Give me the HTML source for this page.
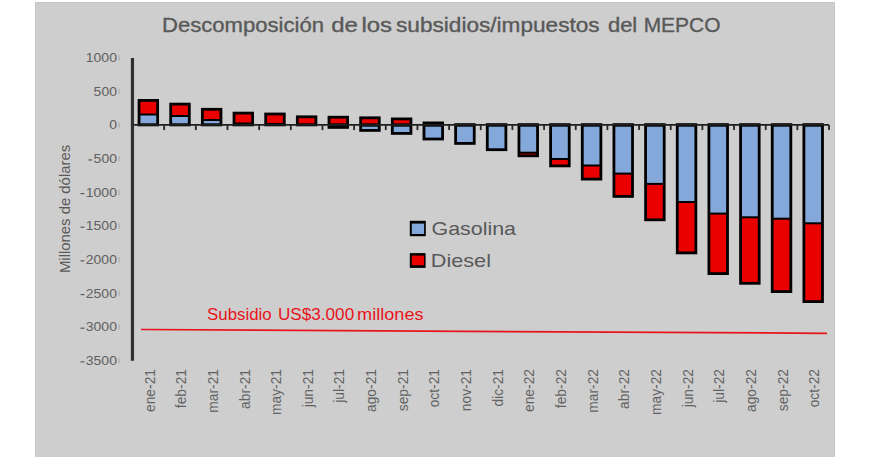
<!DOCTYPE html>
<html><head><meta charset="utf-8"><style>
html,body{margin:0;padding:0;background:#fff;width:870px;height:457px;overflow:hidden}
.bg{position:absolute;left:35px;top:2px;width:798px;height:455px;background:#cecece;border:1px solid #c6c6c6;border-bottom:none}
svg{position:absolute;left:0;top:0}
text{font-family:"Liberation Sans",sans-serif}
</style></head><body>
<div class="bg"></div>
<svg width="870" height="457" viewBox="0 0 870 457">
<text x="162.05" y="32.2" font-size="20.5" fill="#595959" stroke="#595959" stroke-width="0.35" textLength="161.97" lengthAdjust="spacingAndGlyphs">Descomposición</text>
<text x="331.23" y="32.2" font-size="20.5" fill="#595959" stroke="#595959" stroke-width="0.35" textLength="26.72" lengthAdjust="spacingAndGlyphs">de</text>
<text x="361.43" y="32.2" font-size="20.5" fill="#595959" stroke="#595959" stroke-width="0.35" textLength="30.62" lengthAdjust="spacingAndGlyphs">los</text>
<text x="396.0" y="32.2" font-size="20.5" fill="#595959" stroke="#595959" stroke-width="0.35" textLength="203.66" lengthAdjust="spacingAndGlyphs">subsidios/impuestos</text>
<text x="607.93" y="32.2" font-size="20.5" fill="#595959" stroke="#595959" stroke-width="0.35" textLength="29.33" lengthAdjust="spacingAndGlyphs">del</text>
<text x="643.66" y="32.2" font-size="20.5" fill="#595959" stroke="#595959" stroke-width="0.35" textLength="76.86" lengthAdjust="spacingAndGlyphs">MEPCO</text>
<text transform="translate(70.3,273.05) rotate(-90)" font-size="14.2" fill="#595959" textLength="128.21" lengthAdjust="spacingAndGlyphs">Millones de dólares</text>
<text x="85.85" y="62.00" font-size="12.6" fill="#606060" textLength="31.08" lengthAdjust="spacingAndGlyphs">1000</text>
<rect x="118.5" y="55.10" width="1.5" height="5.5" fill="#b6b6b6"/>
<text x="93.62" y="95.65" font-size="12.6" fill="#606060" textLength="23.31" lengthAdjust="spacingAndGlyphs">500</text>
<rect x="118.5" y="88.75" width="1.5" height="5.5" fill="#b6b6b6"/>
<text x="109.16" y="129.30" font-size="12.6" fill="#606060" textLength="7.77" lengthAdjust="spacingAndGlyphs">0</text>
<rect x="118.5" y="122.40" width="1.5" height="5.5" fill="#b6b6b6"/>
<text x="93.62" y="162.95" font-size="12.6" fill="#606060" textLength="23.31" lengthAdjust="spacingAndGlyphs">500</text>
<rect x="88.32" y="159.35" width="3.8" height="1.2" fill="#595959"/>
<rect x="118.5" y="156.05" width="1.5" height="5.5" fill="#b6b6b6"/>
<text x="85.85" y="196.60" font-size="12.6" fill="#606060" textLength="31.08" lengthAdjust="spacingAndGlyphs">1000</text>
<rect x="80.55" y="193.00" width="3.8" height="1.2" fill="#595959"/>
<rect x="118.5" y="189.70" width="1.5" height="5.5" fill="#b6b6b6"/>
<text x="85.85" y="230.25" font-size="12.6" fill="#606060" textLength="31.08" lengthAdjust="spacingAndGlyphs">1500</text>
<rect x="80.55" y="226.65" width="3.8" height="1.2" fill="#595959"/>
<rect x="118.5" y="223.35" width="1.5" height="5.5" fill="#b6b6b6"/>
<text x="85.85" y="263.90" font-size="12.6" fill="#606060" textLength="31.08" lengthAdjust="spacingAndGlyphs">2000</text>
<rect x="80.55" y="260.30" width="3.8" height="1.2" fill="#595959"/>
<rect x="118.5" y="257.00" width="1.5" height="5.5" fill="#b6b6b6"/>
<text x="85.85" y="297.55" font-size="12.6" fill="#606060" textLength="31.08" lengthAdjust="spacingAndGlyphs">2500</text>
<rect x="80.55" y="293.95" width="3.8" height="1.2" fill="#595959"/>
<rect x="118.5" y="290.65" width="1.5" height="5.5" fill="#b6b6b6"/>
<text x="85.85" y="331.20" font-size="12.6" fill="#606060" textLength="31.08" lengthAdjust="spacingAndGlyphs">3000</text>
<rect x="80.55" y="327.60" width="3.8" height="1.2" fill="#595959"/>
<rect x="118.5" y="324.30" width="1.5" height="5.5" fill="#b6b6b6"/>
<text x="85.85" y="364.85" font-size="12.6" fill="#606060" textLength="31.08" lengthAdjust="spacingAndGlyphs">3500</text>
<rect x="80.55" y="361.25" width="3.8" height="1.2" fill="#595959"/>
<rect x="118.5" y="357.95" width="1.5" height="5.5" fill="#b6b6b6"/>
<rect x="137.63" y="99.00" width="21.40" height="27.30" fill="#000"/>
<rect x="140.43" y="115.50" width="15.80" height="7.80" fill="#84A8D9"/>
<rect x="140.43" y="101.80" width="15.80" height="11.70" fill="#EB0000"/>
<rect x="169.29" y="102.70" width="21.40" height="23.60" fill="#000"/>
<rect x="172.09" y="117.00" width="15.80" height="6.30" fill="#84A8D9"/>
<rect x="172.09" y="105.50" width="15.80" height="9.50" fill="#EB0000"/>
<rect x="200.95" y="107.90" width="21.40" height="18.40" fill="#000"/>
<rect x="203.75" y="121.00" width="15.80" height="2.30" fill="#84A8D9"/>
<rect x="203.75" y="110.70" width="15.80" height="8.30" fill="#EB0000"/>
<rect x="232.61" y="111.70" width="21.40" height="14.60" fill="#000"/>
<rect x="235.41" y="114.50" width="15.80" height="8.00" fill="#EB0000"/>
<rect x="264.27" y="112.60" width="21.40" height="13.70" fill="#000"/>
<rect x="267.07" y="115.40" width="15.80" height="7.60" fill="#EB0000"/>
<rect x="295.93" y="115.40" width="21.40" height="10.90" fill="#000"/>
<rect x="298.73" y="118.20" width="15.80" height="5.10" fill="#EB0000"/>
<rect x="327.59" y="115.80" width="21.40" height="13.00" fill="#000"/>
<rect x="330.39" y="118.60" width="15.80" height="4.70" fill="#EB0000"/>
<rect x="359.25" y="116.40" width="21.40" height="15.40" fill="#000"/>
<rect x="362.05" y="126.70" width="15.80" height="2.30" fill="#84A8D9"/>
<rect x="362.05" y="119.20" width="15.80" height="4.10" fill="#EB0000"/>
<rect x="390.91" y="117.50" width="21.40" height="17.30" fill="#000"/>
<rect x="393.71" y="126.70" width="15.80" height="5.30" fill="#84A8D9"/>
<rect x="393.71" y="120.30" width="15.80" height="3.00" fill="#EB0000"/>
<rect x="422.57" y="121.50" width="21.40" height="18.90" fill="#000"/>
<rect x="425.37" y="126.70" width="15.80" height="10.90" fill="#84A8D9"/>
<rect x="454.23" y="123.20" width="21.40" height="21.60" fill="#000"/>
<rect x="457.03" y="126.70" width="15.80" height="15.30" fill="#84A8D9"/>
<rect x="485.89" y="123.20" width="21.40" height="27.90" fill="#000"/>
<rect x="488.69" y="126.70" width="15.80" height="21.60" fill="#84A8D9"/>
<rect x="517.55" y="123.20" width="21.40" height="34.00" fill="#000"/>
<rect x="520.35" y="126.70" width="15.80" height="25.00" fill="#84A8D9"/>
<rect x="520.35" y="153.70" width="15.80" height="0.70" fill="#EB0000"/>
<rect x="549.21" y="123.20" width="21.40" height="44.10" fill="#000"/>
<rect x="552.01" y="126.70" width="15.80" height="31.30" fill="#84A8D9"/>
<rect x="552.01" y="160.00" width="15.80" height="4.50" fill="#EB0000"/>
<rect x="580.87" y="123.20" width="21.40" height="57.30" fill="#000"/>
<rect x="583.67" y="126.70" width="15.80" height="37.80" fill="#84A8D9"/>
<rect x="583.67" y="166.50" width="15.80" height="11.20" fill="#EB0000"/>
<rect x="612.53" y="123.20" width="21.40" height="74.60" fill="#000"/>
<rect x="615.33" y="126.70" width="15.80" height="45.90" fill="#84A8D9"/>
<rect x="615.33" y="174.60" width="15.80" height="20.40" fill="#EB0000"/>
<rect x="644.19" y="123.20" width="21.40" height="98.00" fill="#000"/>
<rect x="646.99" y="126.70" width="15.80" height="56.20" fill="#84A8D9"/>
<rect x="646.99" y="184.90" width="15.80" height="33.50" fill="#EB0000"/>
<rect x="675.85" y="123.20" width="21.40" height="131.10" fill="#000"/>
<rect x="678.65" y="126.70" width="15.80" height="74.30" fill="#84A8D9"/>
<rect x="678.65" y="203.00" width="15.80" height="48.50" fill="#EB0000"/>
<rect x="707.51" y="123.20" width="21.40" height="151.80" fill="#000"/>
<rect x="710.31" y="126.70" width="15.80" height="85.90" fill="#84A8D9"/>
<rect x="710.31" y="214.60" width="15.80" height="57.60" fill="#EB0000"/>
<rect x="739.17" y="123.20" width="21.40" height="161.50" fill="#000"/>
<rect x="741.97" y="126.70" width="15.80" height="89.60" fill="#84A8D9"/>
<rect x="741.97" y="218.30" width="15.80" height="63.60" fill="#EB0000"/>
<rect x="770.83" y="123.20" width="21.40" height="169.80" fill="#000"/>
<rect x="773.63" y="126.70" width="15.80" height="91.00" fill="#84A8D9"/>
<rect x="773.63" y="219.70" width="15.80" height="70.50" fill="#EB0000"/>
<rect x="802.49" y="123.20" width="21.40" height="179.80" fill="#000"/>
<rect x="805.29" y="126.70" width="15.80" height="95.60" fill="#84A8D9"/>
<rect x="805.29" y="224.30" width="15.80" height="75.90" fill="#EB0000"/>
<line x1="132.50" y1="124.9" x2="829.02" y2="124.9" stroke="#1e1e1e" stroke-width="1.9"/>
<line x1="164.16" y1="124.9" x2="164.16" y2="130.1" stroke="#262626" stroke-width="1.8"/>
<line x1="195.82" y1="124.9" x2="195.82" y2="130.1" stroke="#262626" stroke-width="1.8"/>
<line x1="227.48" y1="124.9" x2="227.48" y2="130.1" stroke="#262626" stroke-width="1.8"/>
<line x1="259.14" y1="124.9" x2="259.14" y2="130.1" stroke="#262626" stroke-width="1.8"/>
<line x1="290.80" y1="124.9" x2="290.80" y2="130.1" stroke="#262626" stroke-width="1.8"/>
<line x1="322.46" y1="124.9" x2="322.46" y2="130.1" stroke="#262626" stroke-width="1.8"/>
<line x1="354.12" y1="124.9" x2="354.12" y2="130.1" stroke="#262626" stroke-width="1.8"/>
<line x1="385.78" y1="124.9" x2="385.78" y2="130.1" stroke="#262626" stroke-width="1.8"/>
<line x1="417.44" y1="124.9" x2="417.44" y2="130.1" stroke="#262626" stroke-width="1.8"/>
<line x1="449.10" y1="124.9" x2="449.10" y2="130.1" stroke="#262626" stroke-width="1.8"/>
<line x1="480.76" y1="124.9" x2="480.76" y2="130.1" stroke="#262626" stroke-width="1.8"/>
<line x1="512.42" y1="124.9" x2="512.42" y2="130.1" stroke="#262626" stroke-width="1.8"/>
<line x1="544.08" y1="124.9" x2="544.08" y2="130.1" stroke="#262626" stroke-width="1.8"/>
<line x1="575.74" y1="124.9" x2="575.74" y2="130.1" stroke="#262626" stroke-width="1.8"/>
<line x1="607.40" y1="124.9" x2="607.40" y2="130.1" stroke="#262626" stroke-width="1.8"/>
<line x1="639.06" y1="124.9" x2="639.06" y2="130.1" stroke="#262626" stroke-width="1.8"/>
<line x1="670.72" y1="124.9" x2="670.72" y2="130.1" stroke="#262626" stroke-width="1.8"/>
<line x1="702.38" y1="124.9" x2="702.38" y2="130.1" stroke="#262626" stroke-width="1.8"/>
<line x1="734.04" y1="124.9" x2="734.04" y2="130.1" stroke="#262626" stroke-width="1.8"/>
<line x1="765.70" y1="124.9" x2="765.70" y2="130.1" stroke="#262626" stroke-width="1.8"/>
<line x1="797.36" y1="124.9" x2="797.36" y2="130.1" stroke="#262626" stroke-width="1.8"/>
<line x1="829.02" y1="124.9" x2="829.02" y2="130.1" stroke="#262626" stroke-width="1.8"/>
<line x1="132.45" y1="58.1" x2="132.45" y2="360.8" stroke="#303030" stroke-width="3.2"/>
<text transform="translate(154.53,369.0) rotate(-90) scale(0.946,1)" text-anchor="end" font-size="14.6" fill="#626262">ene-21</text>
<text transform="translate(186.19,369.0) rotate(-90) scale(0.946,1)" text-anchor="end" font-size="14.6" fill="#626262">feb-21</text>
<text transform="translate(217.85,369.0) rotate(-90) scale(0.946,1)" text-anchor="end" font-size="14.6" fill="#626262">mar-21</text>
<text transform="translate(249.51,369.0) rotate(-90) scale(0.946,1)" text-anchor="end" font-size="14.6" fill="#626262">abr-21</text>
<text transform="translate(281.17,369.0) rotate(-90) scale(0.946,1)" text-anchor="end" font-size="14.6" fill="#626262">may-21</text>
<text transform="translate(312.83,369.0) rotate(-90) scale(0.946,1)" text-anchor="end" font-size="14.6" fill="#626262">jun-21</text>
<text transform="translate(344.49,369.0) rotate(-90) scale(0.946,1)" text-anchor="end" font-size="14.6" fill="#626262">jul-21</text>
<text transform="translate(376.15,369.0) rotate(-90) scale(0.946,1)" text-anchor="end" font-size="14.6" fill="#626262">ago-21</text>
<text transform="translate(407.81,369.0) rotate(-90) scale(0.946,1)" text-anchor="end" font-size="14.6" fill="#626262">sep-21</text>
<text transform="translate(439.47,369.0) rotate(-90) scale(0.946,1)" text-anchor="end" font-size="14.6" fill="#626262">oct-21</text>
<text transform="translate(471.13,369.0) rotate(-90) scale(0.946,1)" text-anchor="end" font-size="14.6" fill="#626262">nov-21</text>
<text transform="translate(502.79,369.0) rotate(-90) scale(0.946,1)" text-anchor="end" font-size="14.6" fill="#626262">dic-21</text>
<text transform="translate(534.45,369.0) rotate(-90) scale(0.946,1)" text-anchor="end" font-size="14.6" fill="#626262">ene-22</text>
<text transform="translate(566.11,369.0) rotate(-90) scale(0.946,1)" text-anchor="end" font-size="14.6" fill="#626262">feb-22</text>
<text transform="translate(597.77,369.0) rotate(-90) scale(0.946,1)" text-anchor="end" font-size="14.6" fill="#626262">mar-22</text>
<text transform="translate(629.43,369.0) rotate(-90) scale(0.946,1)" text-anchor="end" font-size="14.6" fill="#626262">abr-22</text>
<text transform="translate(661.09,369.0) rotate(-90) scale(0.946,1)" text-anchor="end" font-size="14.6" fill="#626262">may-22</text>
<text transform="translate(692.75,369.0) rotate(-90) scale(0.946,1)" text-anchor="end" font-size="14.6" fill="#626262">jun-22</text>
<text transform="translate(724.41,369.0) rotate(-90) scale(0.946,1)" text-anchor="end" font-size="14.6" fill="#626262">jul-22</text>
<text transform="translate(756.07,369.0) rotate(-90) scale(0.946,1)" text-anchor="end" font-size="14.6" fill="#626262">ago-22</text>
<text transform="translate(787.73,369.0) rotate(-90) scale(0.946,1)" text-anchor="end" font-size="14.6" fill="#626262">sep-22</text>
<text transform="translate(819.39,369.0) rotate(-90) scale(0.946,1)" text-anchor="end" font-size="14.6" fill="#626262">oct-22</text>
<line x1="141" y1="329.5" x2="827" y2="333.3" stroke="#E8141B" stroke-width="1.7"/>
<text x="207.12" y="320" font-size="15.6" fill="#E8141B" textLength="64.57" lengthAdjust="spacingAndGlyphs">Subsidio</text>
<text x="277.9" y="320" font-size="15.6" fill="#E8141B" textLength="76.3" lengthAdjust="spacingAndGlyphs">US$3.000</text>
<text x="357.14" y="320" font-size="15.6" fill="#E8141B" textLength="66.4" lengthAdjust="spacingAndGlyphs">millones</text>
<rect x="409.8" y="220.8" width="16" height="15.4" fill="#000"/><rect x="411.8" y="223.6" width="12.3" height="10.4" fill="#84A8D9"/>
<rect x="409.8" y="253.1" width="15.8" height="14.8" fill="#000"/><rect x="411.8" y="255.6" width="12.3" height="9.6" fill="#EB0000"/>
<text x="431.47" y="234.8" font-size="19" fill="#595959" textLength="84.53" lengthAdjust="spacingAndGlyphs">Gasolina</text>
<text x="430.72" y="267.1" font-size="19" fill="#595959" textLength="60.31" lengthAdjust="spacingAndGlyphs">Diesel</text>
</svg>
</body></html>
